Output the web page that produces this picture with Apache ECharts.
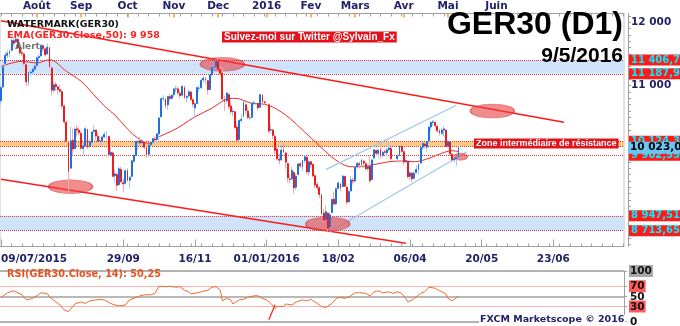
<!DOCTYPE html>
<html><head><meta charset="utf-8">
<script src="https://cdn.jsdelivr.net/npm/echarts@6/dist/echarts.min.js"></script>
<style>html,body{margin:0;padding:0;background:#fff}#c{width:680px;height:326px}</style>
</head><body><div id="c"></div>
<script>
// ---------- DATA ----------
// Daily candles [open, high, low, close]; null = market closed
const candles2015 = [
 // Jul 9-10
 [10760,11010,10700,10970],[10980,11330,10960,11300],
 // Jul 13-17
 [11350,11530,11300,11480],[11480,11560,11430,11510],[11510,11580,11450,11540],[11560,11740,11540,11715],[11710,11760,11630,11670],
 // Jul 20-24
 [11690,11770,11670,11735],[11730,11760,11580,11600],[11600,11640,11480,11520],[11520,11600,11470,11510],[11500,11520,11320,11350],
 // Jul 27-31
 [11330,11350,10990,11060],[11060,11230,11000,11210],[11200,11260,11150,11215],[11220,11290,11170,11260],[11260,11340,11230,11310],
 // Aug 3-7
 [11320,11460,11300,11440],[11440,11500,11400,11460],[11470,11660,11460,11635],[11630,11650,11540,11585],[11580,11600,11460,11490],
 // Aug 10-14
 [11500,11670,11490,11605],[11600,11610,11280,11295],[11280,11300,10850,10930],[10930,11070,10890,11015],[11020,11060,10920,10985],
 // Aug 17-21
 [10980,11000,10860,10940],[10940,11010,10880,10915],[10910,10930,10640,10680],[10680,10700,10400,10430],[10420,10450,10110,10125],
 // Aug 24-28
 [10100,10120,9340,9650],[9700,10350,9690,10130],[10140,10320,9900,10000],[10010,10340,9990,10315],[10320,10380,10200,10300],
 // Aug 31 - Sep 4
 [10300,10350,10220,10260],[10250,10280,9990,10015],[10010,10100,9900,10050],[10050,10350,10040,10320],[10310,10320,10000,10040],
 // Sep 7-11
 [10050,10150,10020,10110],[10110,10290,10080,10270],[10280,10380,10250,10300],[10300,10310,10140,10210],[10200,10260,10100,10125],
 // Sep 14-18
 [10130,10200,10070,10130],[10130,10210,10060,10190],[10190,10280,10180,10230],[10230,10290,10150,10230],[10200,10210,9880,9915],
 // Sep 21-25
 [9900,10060,9890,9950],[9940,9960,9560,9570],[9580,9680,9470,9610],[9600,9620,9340,9430],[9440,9720,9420,9690],
 // Sep 28 - Oct 2
 [9680,9720,9470,9485],[9470,9530,9325,9450],[9460,9680,9440,9660],[9660,9700,9480,9510],[9510,9580,9380,9555],
 // Oct 5-9
 [9570,9830,9560,9815],[9810,9920,9780,9900],[9900,10130,9890,10120],[10110,10140,9990,10120],[10130,10190,10060,10095],
 // Oct 12-16
 [10100,10150,10070,10125],[10110,10130,10000,10030],[10020,10040,9860,9915],[9920,10080,9900,10065],[10070,10130,10040,10105],
 // Oct 19-23
 [10110,10180,10080,10165],[10160,10200,10110,10145],[10150,10250,10090,10240],[10240,10500,10150,10490],[10510,10820,10500,10795],
 // Oct 26-30
 [10800,10850,10760,10800],[10790,10810,10640,10690],[10700,10840,10620,10830],[10830,10870,10760,10800],[10800,10870,10780,10850],
 // Nov 2-6
 [10860,10960,10820,10950],[10950,11000,10900,10950],[10950,10990,10850,10890],[10880,10920,10800,10845],[10850,11010,10820,10990],
 // Nov 9-13
 [10970,11000,10790,10815],[10810,10850,10740,10830],[10840,10930,10820,10905],[10900,10920,10760,10785],[10780,10800,10660,10710],
 // Nov 16-20
 [10650,10730,10510,10715],[10720,10980,10710,10970],[10960,11000,10900,10960],[10970,11110,10950,11085],[11090,11150,11050,11120],
 // Nov 23-27
 [11110,11140,11030,11090],[11080,11090,10860,10935],[10940,11180,10930,11170],[11170,11300,11160,11285],[11285,11320,11250,11295],
 // Nov 30 - Dec 4
 [11300,11400,11270,11385],[11390,11430,11250,11260],[11260,11300,11150,11190],[11200,11290,10750,10790],[10780,10840,10600,10750],
 // Dec 7-11
 [10760,10900,10720,10885],[10860,10870,10630,10675],[10680,10760,10550,10590],[10590,10650,10520,10600],[10590,10600,10320,10340],
 // Dec 14-18
 [10350,10400,10120,10140],[10150,10470,10140,10450],[10450,10550,10420,10470],[10520,10760,10510,10740],[10700,10720,10560,10610],
 // Dec 21-25
 [10600,10650,10470,10500],[10490,10560,10450,10490],[10500,10740,10490,10725],[10720,10760,10690,10730],null,
 // Dec 28 - Jan 1
 [10720,10730,10610,10650],[10660,10870,10650,10860],[10850,10870,10730,10745],[10745,10760,10700,10730],null
];
const candles2016 = [
 // Jan 4-8
 [10700,10720,10250,10285],[10300,10400,10250,10310],[10300,10320,10150,10215],[10200,10230,9920,9980],[10000,10080,9820,9850],
 // Jan 11-15
 [9840,9930,9760,9825],[9830,10090,9810,9985],[9990,10110,9940,9960],[9940,9960,9690,9795],[9770,9800,9470,9545],
 // Jan 18-22
 [9530,9600,9460,9520],[9530,9720,9510,9665],[9630,9650,9300,9390],[9400,9610,9350,9575],[9600,9780,9590,9765],
 // Jan 25-29
 [9770,9800,9700,9735],[9720,9830,9650,9820],[9820,9900,9780,9880],[9870,9890,9600,9640],[9640,9810,9580,9800],
 // Feb 1-5
 [9800,9810,9700,9755],[9760,9770,9560,9580],[9580,9600,9380,9435],[9440,9490,9350,9395],[9390,9420,9230,9285],
 // Feb 8-12
 [9280,9300,8960,8980],[8990,9060,8840,8880],[8890,9110,8880,9015],[8990,9000,8700,8750],[8770,9000,8760,8965],
 // Feb 15-19
 [9000,9220,8990,9205],[9210,9330,9120,9135],[9140,9390,9110,9375],[9380,9490,9370,9465],[9450,9470,9330,9390],
 // Feb 22-26
 [9410,9590,9400,9575],[9570,9580,9400,9415],[9400,9410,9120,9165],[9170,9360,9150,9330],[9340,9580,9330,9515],
 // Feb 29 - Mar 4
 [9510,9550,9440,9495],[9500,9730,9470,9715],[9720,9800,9690,9775],[9770,9800,9700,9750],[9760,9850,9720,9825],
 // Mar 7-11
 [9810,9830,9700,9780],[9770,9790,9660,9690],[9690,9740,9650,9725],[9730,9890,9470,9500],[9520,9840,9510,9830],
 // Mar 14-18
 [9860,10000,9850,9990],[9980,9990,9890,9935],[9930,9990,9860,9985],[9990,10080,9840,9895],[9900,9970,9870,9950],
 // Mar 21-25
 [9960,9990,9920,9950],[9940,10010,9880,9990],[9990,10130,9970,10020],[10010,10030,9820,9850],null,
 // Mar 28 - Apr 1
 null,[9850,9930,9780,9890],[9900,10070,9890,10045],[10040,10060,9940,9965],[9960,9970,9740,9795],
 // Apr 4-8
 [9800,9860,9780,9820],[9810,9820,9540,9565],[9570,9650,9520,9625],[9620,9640,9480,9530],[9540,9660,9520,9620],
 // Apr 11-15
 [9630,9740,9620,9680],[9680,9780,9600,9760],[9780,10040,9770,10025],[10030,10110,9980,10090],[10080,10100,10010,10050],
 // Apr 18-22
 [10030,10130,9960,10120],[10130,10360,10120,10350],[10350,10440,10290,10420],[10420,10460,10370,10430],[10420,10440,10330,10370],
 // Apr 25-29
 [10360,10380,10250,10290],[10290,10320,10210,10260],[10250,10330,10220,10300],[10300,10370,10200,10320],[10300,10310,10030,10040],
 // May 2-6
 [10050,10140,10020,10120],[10110,10120,9900,9925],[9920,9940,9800,9830],[9830,9890,9790,9850],[9850,9880,9730,9870],
 // May 9
 [9880,10040,9860,10023]
];
// EMA(50): [bar index, value]
const emaPoints = [[0,11306],[10,11385],[17,11358],[23,11410],[31,11227],[38,11069],[44,10858],[50,10648],[54,10538],[59,10353],[64,10196],[70,10092],[75,10196],[81,10285],[86,10380],[92,10511],[100,10644],[106,10774],[111,10801],[119,10722],[125,10707],[130,10644],[137,10486],[143,10301],[149,10117],[154,9959],[160,9801],[166,9722],[169,9722],[176,9749],[184,9801],[190,9812],[196,9801],[203,9855],[209,9934],[214,9975],[217,9958]];
// RSI(14): [bar index, value]
const rsiPoints = [[0,48],[3,57],[6,61],[7,59],[10,53],[12,43],[15,46],[17,51],[19,57],[22,55],[23,49],[26,39],[28,33],[30,23],[32,20],[34,30],[35,35],[38,39],[40,36],[42,41],[45,43],[47,44],[49,43],[52,36],[54,33],[56,31],[59,33],[61,43],[64,48],[66,51],[68,53],[71,53],[73,56],[75,70],[78,69],[80,70],[83,68],[85,69],[87,62],[89,59],[90,55],[93,57],[95,59],[98,62],[100,68],[102,69],[104,62],[105,41],[107,46],[109,43],[110,35],[113,43],[115,44],[117,48],[120,51],[122,51],[124,46],[126,43],[128,36],[130,26],[131,30],[134,30],[135,35],[138,33],[140,39],[143,43],[145,41],[147,44],[150,36],[152,30],[154,28],[157,36],[159,46],[161,48],[163,46],[165,49],[168,57],[170,57],[173,56],[175,51],[177,59],[179,61],[181,57],[184,59],[186,56],[188,59],[190,56],[192,46],[193,39],[195,43],[196,46],[199,56],[201,59],[203,68],[206,66],[208,61],[211,55],[212,46],[214,41],[215,44],[217,50.25]];
// Levels
const labelledLevels = [11406.76, 11187.99, 10124.37, 9902.55, 8947.51, 8713.65];
const plainLevels = [10040];
const currentPrice = 10023.05;
const blueZoneHigh = [11187.99, 11406.76];
const blueZoneLow = [8713.65, 8947.51];
const orangeZone = [10040, 10124.37];
// Trend lines: [[bar index, price],[bar index, price]]
const resistanceLine = [[0,12025],[267,10424]];
const supportLine = [[0,9526],[192,8517]];
const channelTop = [[154,9676],[216,10693]];
const channelBottom = [[156,8696],[221,9960]];
const rsiTrend = [[127,3.7],[130,33.3]];
const highlights = [[33,9407],[105,11338],[155,8819],[233,10601],[218,9880]];
// Axis tick labels
const yTickLabels = [11000, 12000];
const rsiTickLabels = [0, 30, 50, 70, 100];
const monthLabels = {'2015-08-03':'Août','2015-09-01':'Sep','2015-10-01':'Oct','2015-11-02':'Nov','2015-12-01':'Dec','2016-01-01':'2016','2016-02-01':'Fev','2016-03-01':'Mars','2016-04-01':'Avr','2016-05-02':'Mai','2016-05-27':'Juin'};
const dateLabels = {'2015-07-09':'09/07/2015','2015-09-29':'29/09','2015-11-16':'16/11','2016-01-01':'01/01/2016','2016-02-18':'18/02','2016-04-06':'06/04','2016-05-20':'20/05','2016-06-23':'23/06'};

// ---------- BUILD ----------
function buildDates(){
  const out=[]; const d=new Date(Date.UTC(2015,6,9));
  const lastTrade=Date.UTC(2016,4,9), end=Date.UTC(2016,6,26);
  while(d.getTime()<=end){
    const wd=d.getUTCDay(), t=d.getTime();
    if(t>lastTrade || (wd!==0 && wd!==6)) out.push(d.toISOString().slice(0,10));
    d.setUTCDate(d.getUTCDate()+1);
  }
  return out;
}
const dates = buildDates();
const allCandles = candles2015.concat(candles2016);
const wickData = dates.map((d,i)=>{const c=allCandles[i]; return c? [c[0],c[3],c[2],c[1]] : '-';});
const bodyData = dates.map((d,i)=>{const c=allCandles[i]; return c? [c[0],c[3],Math.min(c[0],c[3]),Math.max(c[0],c[3])] : '-';});

function fmtPrice(v){const p=v.toFixed(2).split('.');return p[0].replace(/\B(?=(\d{3})+(?!\d))/g,' ')+','+p[1];}
function fmtInt(v){return String(v).replace(/\B(?=(\d{3})+(?!\d))/g,' ');}

const NAVY='#22226a';
const AXF={fontFamily:'DejaVu Sans',fontWeight:'bold',fontSize:10.5,color:NAVY};
const GRAY='#a0a0a0';
const UP='#1f6fe0', UPW='#a3cbf2', DN='#ee1c1c', DNW='#f6a9a9';
const dotted={type:'dotted',color:'#e23a3a',width:1};
const priceTicks=[]; for(let v=8500; v<=12100; v+=100) priceTicks.push(v);

const chart = echarts.init(document.getElementById('c'), null, {renderer:'canvas'});
const option = {
  animation:false,
  backgroundColor:'#ffffff',
  grid:[
    {left:0, top:13.5, width:624, height:233, show:true, borderColor:'#c4c4c4', borderWidth:1, containLabel:false, outerBoundsMode:'none'},
    {left:0, top:271, width:624, height:50.7, show:false, containLabel:false, outerBoundsMode:'none'}
  ],
  xAxis:[
    {gridIndex:0, type:'category', data:dates, position:'bottom', boundaryGap:true,
     axisLine:{show:true, lineStyle:{color:GRAY}},
     axisTick:{show:true, alignWithLabel:true, inside:true, length:7, interval:(i,v)=>!!dateLabels[v], lineStyle:{color:GRAY}},
     axisLabel:Object.assign({show:true, interval:(i,v)=>!!dateLabels[v], formatter:v=>dateLabels[v]||'', margin:7, alignMinLabel:'left', hideOverlap:false}, AXF),
     splitLine:{show:false}},
    {gridIndex:0, type:'category', data:dates, position:'top', boundaryGap:true,
     axisLine:{show:true, lineStyle:{color:GRAY}},
     axisTick:{show:true, alignWithLabel:true, inside:true, length:4, interval:(i,v)=>!!monthLabels[v], lineStyle:{color:'#f0a02a', width:1.5}},
     axisLabel:Object.assign({show:true, interval:(i,v)=>!!monthLabels[v], formatter:v=>monthLabels[v]||'', margin:2, hideOverlap:false}, AXF),
     splitLine:{show:false}},
    {gridIndex:0, type:'category', data:dates, position:'bottom', boundaryGap:true,
     axisLine:{show:false}, axisLabel:{show:false}, splitLine:{show:false},
     axisTick:{show:true, alignWithLabel:true, inside:true, length:3, interval:(i)=>i%5===0, lineStyle:{color:GRAY}}},
    {gridIndex:0, type:'category', data:dates, position:'top', boundaryGap:true,
     axisLine:{show:false}, axisLabel:{show:false}, splitLine:{show:false},
     axisTick:{show:true, alignWithLabel:true, inside:true, length:3, interval:(i)=>i%5===0, lineStyle:{color:GRAY}}},
    {gridIndex:1, type:'category', data:dates, boundaryGap:true, show:false}
  ],
  yAxis:[
    {gridIndex:0, type:'value', position:'right', min:8464, max:12139, offset:4, scale:true,
     axisLine:{show:true, lineStyle:{color:GRAY}},
     axisTick:{show:true, customValues:priceTicks, length:3, lineStyle:{color:GRAY}},
     axisLabel:Object.assign({show:true, customValues:yTickLabels, formatter:v=>fmtInt(v), margin:3}, AXF),
     splitLine:{show:false}},
    {gridIndex:1, type:'value', position:'right', min:0, max:100,
     axisLine:{show:true, lineStyle:{color:GRAY}},
     axisTick:{show:true, customValues:rsiTickLabels, length:3, lineStyle:{color:GRAY}},
     axisLabel:{show:true, customValues:rsiTickLabels, margin:5,
       formatter:v=> v===100?'{g|100}': (v===70||v===30)?('{r|'+v+'}'):('{n|'+v+'}'),
       rich:{
         g:{backgroundColor:'#a9a9a9', color:'#111', fontFamily:'DejaVu Sans', fontWeight:'bold', fontSize:10.5, padding:[1,1,0,1]},
         r:{backgroundColor:'#ff5b5b', color:'#111', fontFamily:'DejaVu Sans', fontWeight:'bold', fontSize:10.5, padding:[1,1,0,1]},
         n:{color:'#111', fontFamily:'DejaVu Sans', fontWeight:'bold', fontSize:10.5, padding:[1,1,0,1]}
       }},
     splitLine:{show:false}}
  ],
  series:[
    {name:'zones', type:'line', xAxisIndex:0, yAxisIndex:0, data:[], z:1, silent:true,
     markArea:{silent:true, data:[
       [{yAxis:blueZoneHigh[0], itemStyle:{color:'#cfe4fa'}},{yAxis:blueZoneHigh[1]}],
       [{yAxis:blueZoneLow[0], itemStyle:{color:'#cfe4fa'}},{yAxis:blueZoneLow[1]}],
       [{yAxis:orangeZone[0], itemStyle:{color:'#fdc985'}},{yAxis:orangeZone[1]}]
     ]}},
    {name:'levels', type:'line', xAxisIndex:0, yAxisIndex:0, data:[], z:2, silent:true,
     markLine:{silent:true, symbol:['none','none'], animation:false,
       data: labelledLevels.map(v=>({yAxis:v, lineStyle:dotted,
         label:{show:true, position:'end', distance:5, formatter:fmtPrice(v), backgroundColor:'#ff1a1a', color:'#00f0ff',
                fontFamily:'DejaVu Sans', fontWeight:'bold', fontSize:10, padding:[1,2,0,2]}}))
         .concat(plainLevels.map(v=>({yAxis:v, lineStyle:dotted, label:{show:false}})))
     }},
    {name:'trends', type:'line', xAxisIndex:0, yAxisIndex:0, data:[], z:3, silent:true,
     markLine:{silent:true, symbol:['none','none'], label:{show:false},
       data:[
         [{coord:resistanceLine[0], lineStyle:{color:'#ff1a1a', width:1.5, type:'solid'}},{coord:resistanceLine[1]}],
         [{coord:supportLine[0], lineStyle:{color:'#ff1a1a', width:1.5, type:'solid'}},{coord:supportLine[1]}],
         [{coord:channelTop[0], lineStyle:{color:'#9dc8f0', width:1.2, type:'solid'}},{coord:channelTop[1]}],
         [{coord:channelBottom[0], lineStyle:{color:'#9dc8f0', width:1.2, type:'solid'}},{coord:channelBottom[1]}]
       ]}},
    {name:'EMA', type:'line', xAxisIndex:0, yAxisIndex:0, data:emaPoints, smooth:0.35, symbol:'none', z:4,
     lineStyle:{color:'#ee2a2a', width:1}},
    {name:'wicks', type:'candlestick', xAxisIndex:0, yAxisIndex:0, data:wickData, barWidth:1, z:5, silent:true,
     itemStyle:{color:UPW, color0:DNW, borderColor:UPW, borderColor0:DNW, borderColorDoji:UPW, borderWidth:1}},
    {name:'GER30', type:'candlestick', xAxisIndex:0, yAxisIndex:0, data:bodyData, barWidth:1.4, z:6,
     itemStyle:{color:UP, color0:DN, borderColor:UP, borderColor0:DN, borderColorDoji:UP, borderWidth:1}},
    {name:'highlights', type:'line', xAxisIndex:0, yAxisIndex:0, data:[], z:7, silent:true,
     markPoint:{silent:true, label:{show:false},
       data: highlights.map((p,i)=>({coord:p, symbol:'circle', symbolSize: i===4?[14,7]:[44,14],
         itemStyle:{color:'rgba(232,64,64,0.6)', borderColor:'rgba(210,40,40,0.5)', borderWidth:1}}))}},
    {name:'current', type:'line', xAxisIndex:0, yAxisIndex:0, data:[], z:8, silent:true,
     markLine:{silent:true, symbol:['none','none'],
       data:[{yAxis:currentPrice, lineStyle:{color:'rgba(0,0,0,0)', width:1, type:'solid'},
         label:{show:true, position:'end', distance:4, formatter:fmtPrice(currentPrice), backgroundColor:'#6ac6f2', color:'#000',
                fontFamily:'DejaVu Sans', fontWeight:'bold', fontSize:10.5, padding:[1,3,0,2]}}]}},
    {name:'RSI', type:'line', xAxisIndex:4, yAxisIndex:1, data:rsiPoints, symbol:'none', z:5,
     lineStyle:{color:'#ef6b2e', width:1},
     markLine:{silent:true, symbol:['none','none'], label:{show:false},
       data:[
         {yAxis:100, lineStyle:{color:'#9a9a9a', width:1.5, type:'solid'}},
         {yAxis:70, lineStyle:{color:'#f6b3b3', width:1, type:'solid'}},
         {yAxis:50, lineStyle:{color:'#a0a0a0', width:1.5, type:'solid'}},
         {yAxis:30, lineStyle:{color:'#f6b3b3', width:1, type:'solid'}},
         {yAxis:0, lineStyle:{color:'#9a9a9a', width:1.5, type:'solid'}},
         [{coord:rsiTrend[0], lineStyle:{color:'#ff1a1a', width:1.2, type:'solid'}},{coord:rsiTrend[1]}]
       ]}}
  ],
  graphic:[
    {type:'text', z:100, style:{text:'WATERMARK(GER30)', x:7, y:24.5, verticalAlign:'middle', textVerticalAlign:'middle', font:'bold 9.5px "DejaVu Sans"', fill:'#111'}},
    {type:'text', z:100, style:{text:'EMA(GER30.Close,50): 9 958', x:7, y:35.5, verticalAlign:'middle', textVerticalAlign:'middle', font:'bold 9.5px "DejaVu Sans"', fill:'#ff2020'}},
    {type:'text', z:100, style:{text:'Alert', x:15, y:47, verticalAlign:'middle', textVerticalAlign:'middle', font:'bold 9px "DejaVu Sans"', fill:'rgba(95,95,95,0.85)'}},
    {type:'text', z:100, style:{text:'Suivez-moi sur Twitter @Sylvain_Fx', x:222, y:37, verticalAlign:'middle', textVerticalAlign:'middle', font:'bold 10px "Liberation Sans"', fill:'#ffffff', backgroundColor:'#e4121b', padding:[1,2,0,2]}},
    {type:'text', z:100, style:{text:'Zone intermédiaire de résistance', x:474, y:143.5, verticalAlign:'middle', textVerticalAlign:'middle', font:'bold 9px "Liberation Sans"', fill:'#ffffff', backgroundColor:'#e4121b', padding:[1,2,0,2]}},
    {type:'text', z:100, style:{text:'GER30 (D1)', x:623, y:41, align:'right', textAlign:'right', verticalAlign:'bottom', textVerticalAlign:'bottom', font:'bold 32px "Liberation Sans"', fill:'#000'}},
    {type:'text', z:100, style:{text:'9/5/2016', x:623, y:67, align:'right', textAlign:'right', verticalAlign:'bottom', textVerticalAlign:'bottom', font:'bold 21px "Liberation Sans"', fill:'#000'}},
    {type:'text', z:100, style:{text:'RSI(GER30.Close, 14): 50,25', x:7, y:274, verticalAlign:'middle', textVerticalAlign:'middle', font:'bold 9.7px "DejaVu Sans"', fill:'#e8521e'}},
    {type:'text', z:100, style:{text:'FXCM Marketscope © 2016', x:479, y:320, verticalAlign:'middle', textVerticalAlign:'middle', font:'bold 9.5px "DejaVu Sans"', fill:NAVY, backgroundColor:'#ffffff', padding:[0,1,0,1]}}
  ]
};
chart.setOption(option);
</script></body></html>
